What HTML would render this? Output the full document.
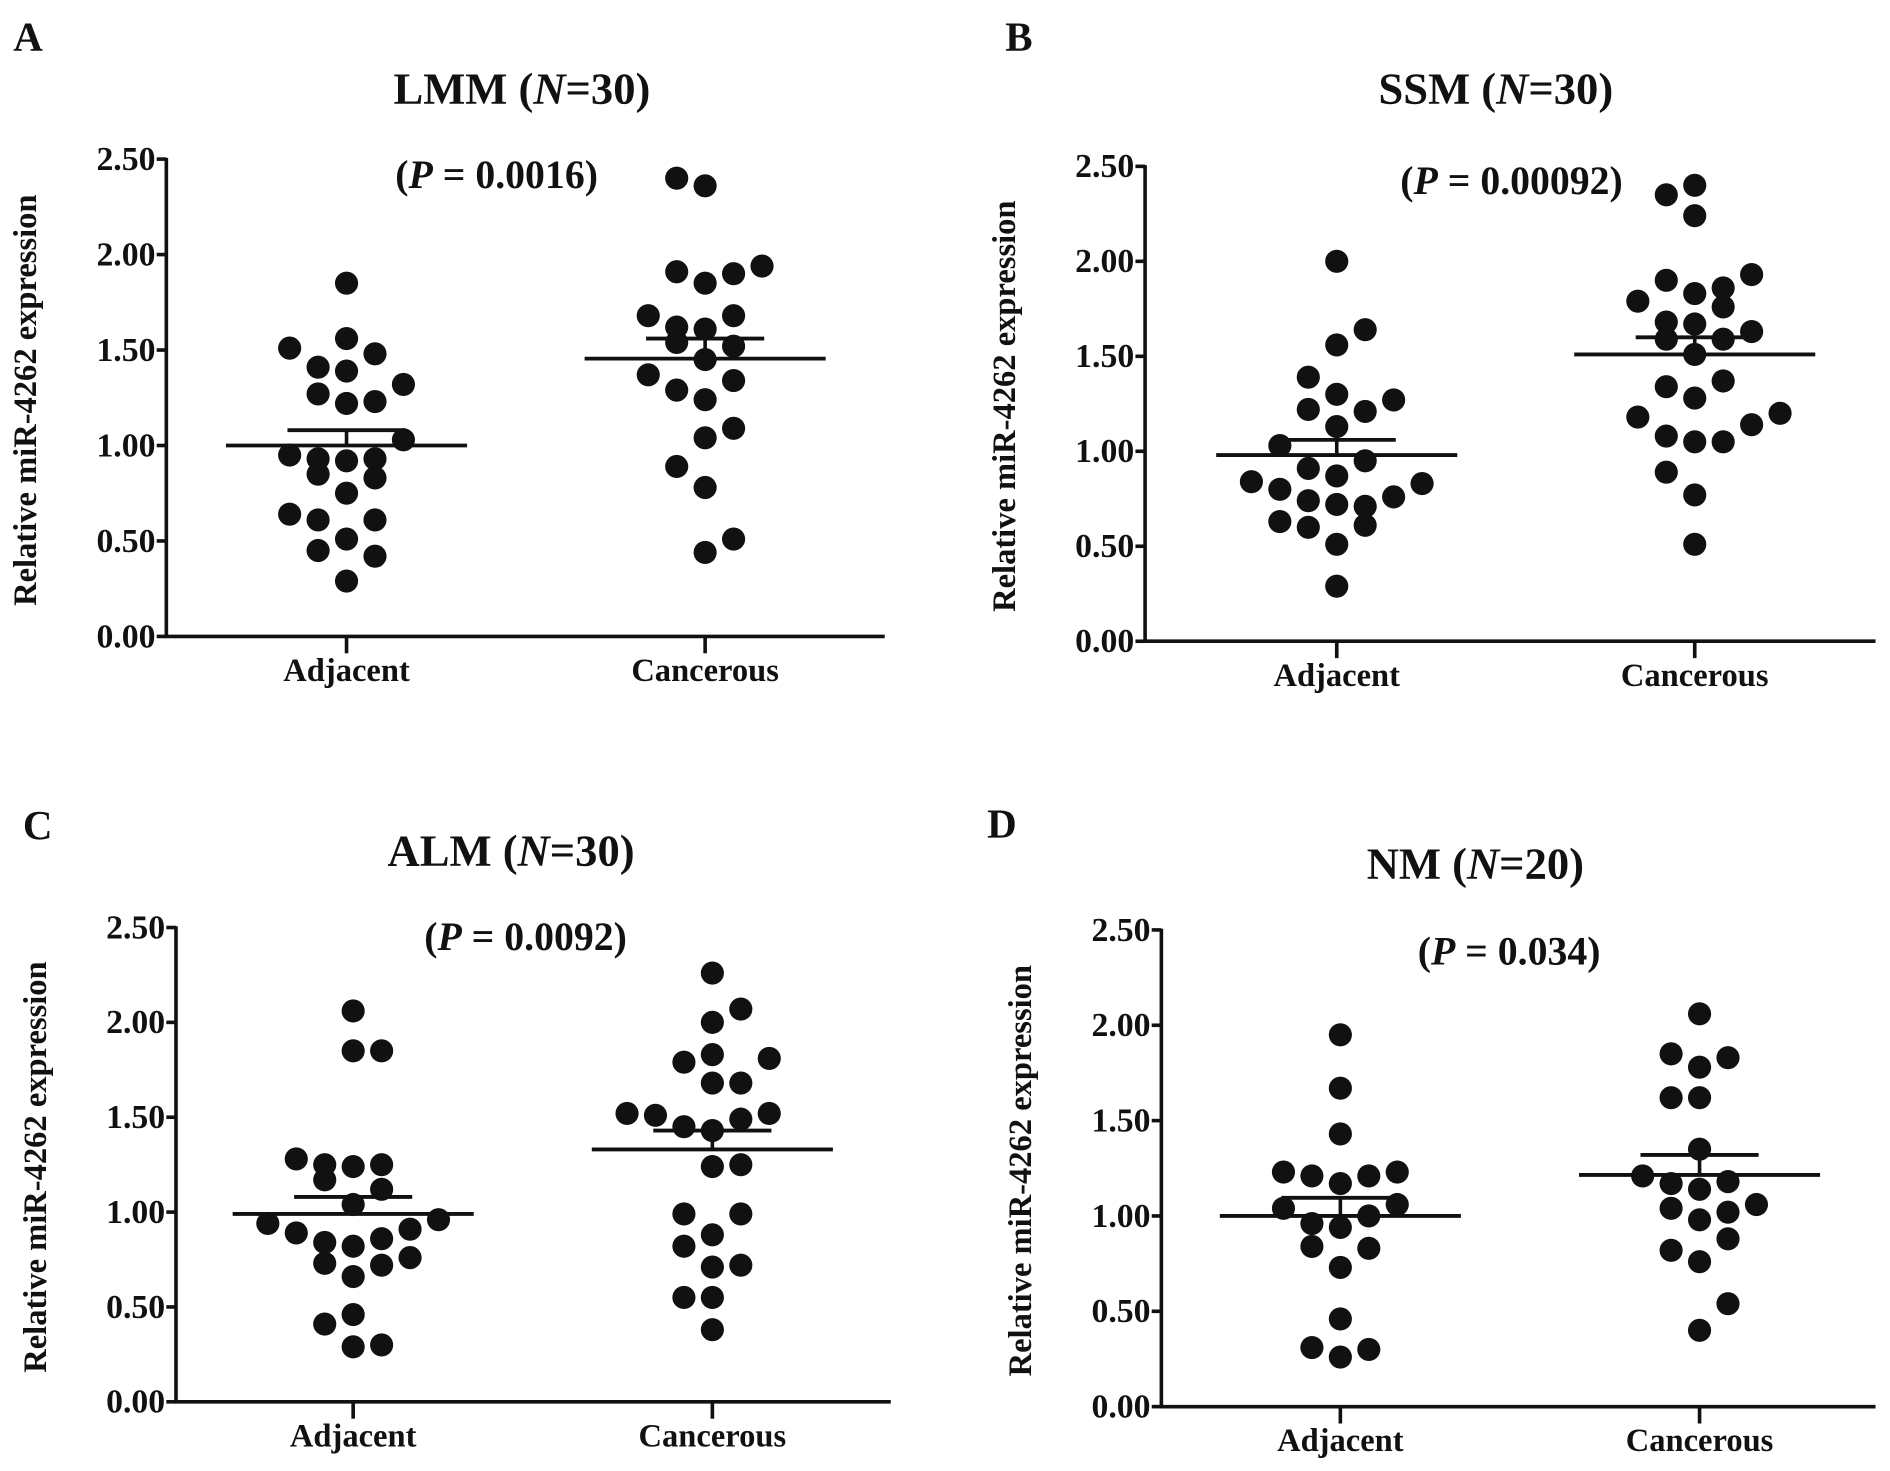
<!DOCTYPE html>
<html><head><meta charset="utf-8"><style>
html,body{margin:0;padding:0;background:#fff;}
svg{display:block;}
text{font-family:"Liberation Serif",serif;font-weight:bold;fill:#111;}
</style></head><body>
<svg id="fig" width="1890" height="1471" viewBox="0 0 1568 1220.4" preserveAspectRatio="none" xmlns="http://www.w3.org/2000/svg"></svg>
<script>
// ---- data ----
const categories = ["Adjacent", "Cancerous"];
const yTicks = [0, 0.5, 1, 1.5, 2, 2.5];
const yTickLabels = ["0.00", "0.50", "1.00", "1.50", "2.00", "2.50"];
const panelTitles = ["LMM", "SSM", "ALM", "NM"];
const panelN = ["30", "30", "30", "20"];
const panelP = ["0.0016", "0.00092", "0.0092", "0.034"];
const panelLetters = ["A", "B", "C", "D"];

const aAdjVals = [1.51,1.85,1.56,1.48,1.41,1.39,1.32,1.27,1.22,1.23,1.03,0.95,0.93,0.92,0.93,0.85,0.83,0.75,0.64,0.61,0.61,0.51,0.45,0.42,0.29];
const aAdjCols = [-2,0,0,1,-1,0,2,-1,0,1,2,-2,-1,0,1,-1,1,0,-2,-1,1,0,-1,1,0];
const aCanVals = [2.40,2.36,1.94,1.91,1.90,1.85,1.68,1.68,1.62,1.61,1.54,1.52,1.45,1.37,1.34,1.29,1.24,1.09,1.04,0.89,0.78,0.51,0.44];
const aCanCols = [-1,0,2,-1,1,0,-2,1,-1,0,-1,1,0,-2,1,-1,0,1,0,-1,0,1,0];
const aMean = [1.00, 1.455];
const aSem = [0.08, 0.105];

const bAdjVals = [2.00,1.64,1.56,1.39,1.30,1.27,1.22,1.21,1.13,1.03,0.95,0.91,0.87,0.84,0.83,0.80,0.74,0.72,0.71,0.76,0.63,0.60,0.61,0.51,0.29];
const bAdjCols = [0,1,0,-1,0,2,-1,1,0,-2,1,-1,0,-3,3,-2,-1,0,1,2,-2,-1,1,0,0];
const bCanVals = [2.40,2.35,2.24,1.93,1.90,1.86,1.83,1.79,1.76,1.68,1.67,1.63,1.59,1.59,1.51,1.37,1.34,1.28,1.20,1.18,1.14,1.08,1.05,1.05,0.89,0.77,0.51];
const bCanCols = [0,-1,0,2,-1,1,0,-2,1,-1,0,2,-1,1,0,1,-1,0,3,-2,2,-1,0,1,-1,0,0];
const bMean = [0.98, 1.51];
const bSem = [0.08, 0.09];

const cAdjVals = [2.06,1.85,1.85,1.28,1.25,1.24,1.25,1.17,1.12,1.04,0.94,0.96,0.91,0.89,0.84,0.86,0.82,0.76,0.73,0.72,0.66,0.46,0.41,0.29,0.30];
const cAdjCols = [0,0,1,-2,-1,0,1,-1,1,0,-3,3,2,-2,-1,1,0,2,-1,1,0,0,-1,0,1];
const cCanVals = [2.26,2.07,2.00,1.83,1.79,1.81,1.68,1.68,1.52,1.51,1.52,1.49,1.45,1.43,1.24,1.25,0.99,0.99,0.88,0.82,0.71,0.72,0.55,0.55,0.38];
const cCanCols = [0,1,0,0,-1,2,0,1,-3,-2,2,1,-1,0,0,1,-1,1,0,-1,0,1,-1,0,0];
const cMean = [0.99, 1.33];
const cSem = [0.09, 0.10];

const dAdjVals = [1.95,1.67,1.43,1.23,1.21,1.17,1.21,1.23,1.04,1.06,1.00,0.96,0.94,0.84,0.83,0.73,0.46,0.31,0.30,0.26];
const dAdjCols = [0,0,0,-2,-1,0,1,2,-2,2,1,-1,0,-1,1,0,0,-1,1,0];
const dCanVals = [2.06,1.85,1.83,1.78,1.62,1.62,1.35,1.21,1.17,1.14,1.18,1.06,1.04,1.02,0.98,0.88,0.82,0.76,0.54,0.40];
const dCanCols = [0,-1,1,0,-1,0,0,-2,-1,0,1,2,-1,1,0,1,-1,0,1,0];
const dMean = [1.00, 1.215];
const dSem = [0.095, 0.105];

// ---- layout (display units) ----
const panels = [
 {ax:138,y0:528,y1:132,xe:734,cx:[287.5,585],tx:433,ty:86,px:412,py:156,lx:11,ly:42,cy:564,
  adj:[aAdjVals,aAdjCols],can:[aCanVals,aCanCols],mean:aMean,sem:aSem},
 {ax:950,y0:532,y1:138,xe:1556,cx:[1109,1406],tx:1241,ty:86,px:1254,py:161,lx:834,ly:42,cy:568,
  adj:[bAdjVals,bAdjCols],can:[bCanVals,bCanCols],mean:bMean,sem:bSem},
 {ax:146,y0:1163,y1:769.5,xe:739,cx:[293,591],tx:424,ty:718,px:436,py:788,lx:19,ly:696,cy:1199,
  adj:[cAdjVals,cAdjCols],can:[cCanVals,cCanCols],mean:cMean,sem:cSem},
 {ax:963.5,y0:1167,y1:771.5,xe:1556,cx:[1112,1410],tx:1224,ty:729,px:1252,py:800,lx:819,ly:695,cy:1203,
  adj:[dAdjVals,dAdjCols],can:[dCanVals,dCanCols],mean:dMean,sem:dSem}
];
const NS = "http://www.w3.org/2000/svg";
const svg = document.getElementById("fig");
function mk(tag, attrs, parent, txt){
  const e = document.createElementNS(NS, tag);
  for (const k in attrs) e.setAttribute(k, attrs[k]);
  if (txt !== undefined) e.textContent = txt;
  parent.appendChild(e); return e;
}
const COLW = 23.6, R = 9.6;
panels.forEach((p, i) => {
  const g = mk("g", {}, svg);
  
  
  const yS = v => p.y0 - (v / 2.5) * (p.y0 - p.y1);
  const L = mk("text", {x:p.lx, y:p.ly, "font-size":34}, g, panelLetters[i]);
  
  
  const T = mk("text", {x:p.tx, y:p.ty, "font-size":37, "text-anchor":"middle"}, g);
  
  
  mk("tspan", {}, T, panelTitles[i] + " (");
  mk("tspan", {"font-style":"italic"}, T, "N");
  mk("tspan", {}, T, "=" + panelN[i] + ")");
  const P = mk("text", {x:p.px, y:p.py, "font-size":33, "text-anchor":"middle"}, g);
  
  
  mk("tspan", {}, P, "(");
  mk("tspan", {"font-style":"italic"}, P, "P");
  mk("tspan", {}, P, " = " + panelP[i] + ")");
  const yl = mk("text", {x:0, y:0, "font-size":27, "text-anchor":"middle",
    transform:"translate(" + (p.ax - 108) + "," + ((p.y0 + p.y1) / 2 + 2) + ") rotate(-90)"}, g, "Relative miR-4262 expression");
  
  
  const axY = mk("line", {x1:p.ax, y1:p.y1 - 1, x2:p.ax, y2:p.y0, stroke:"#111", "stroke-width":3}, g);
  
  
  const axX = mk("line", {x1:p.ax - 1.5, y1:p.y0, x2:p.xe, y2:p.y0, stroke:"#111", "stroke-width":3}, g);
  
  
  yTicks.forEach((t, j) => {
    const y = yS(t);
    const tk = mk("line", {x1:p.ax - 8, y1:y, x2:p.ax, y2:y, stroke:"#111", "stroke-width":3}, g);
    
    
    const tl = mk("text", {x:p.ax - 9, y:y + 9, "font-size":28, "text-anchor":"end"}, g, yTickLabels[j]);
    
    
  });
  categories.forEach((c, j) => {
    const x = p.cx[j];
    const tk = mk("line", {x1:x, y1:p.y0, x2:x, y2:p.y0 + 14, stroke:"#111", "stroke-width":3}, g);
    
    
    const cl = mk("text", {x:x, y:p.cy + 1, "font-size":27, "text-anchor":"middle"}, g, c);
    
    
  });
  [p.adj, p.can].forEach((grp, j) => {
    const vals = grp[0], cols = grp[1];
    vals.forEach((v, k) => {
      const d = mk("circle", {cx:p.cx[j] + cols[k] * COLW, cy:yS(v), r:R, fill:"#111"}, g);
      
      
    });
    const cx = p.cx[j], ym = yS(p.mean[j]), ys = yS(p.mean[j] + p.sem[j]);
    const ml = mk("line", {x1:cx - 100, y1:ym, x2:cx + 100, y2:ym, stroke:"#111", "stroke-width":3.2}, g);
    
    
    const sv = mk("line", {x1:cx, y1:ym, x2:cx, y2:ys, stroke:"#111", "stroke-width":3}, g);
    
    
    const sc = mk("line", {x1:cx - 49, y1:ys, x2:cx + 49, y2:ys, stroke:"#111", "stroke-width":3.2}, g);
    
    
  });
});
</script>
</body></html>
